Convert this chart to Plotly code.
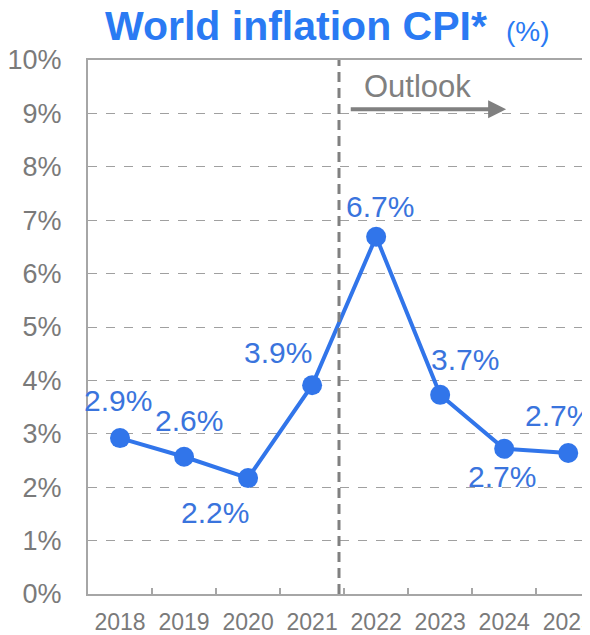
import plotly.graph_objects as go

years = ["2018", "2019", "2020", "2021", "2022", "2023", "2024", "2025"]
cpi = [2.92, 2.57, 2.17, 3.91, 6.69, 3.73, 2.72, 2.64]
cpi_labels = ["2.9%", "2.6%", "2.2%", "3.9%", "6.7%", "3.7%", "2.7%", "2.7%"]
y_ticks = list(range(0, 11))
y_tick_text = [f"{v}%" for v in y_ticks]

# label offsets (pixels) relative to each marker
label_dx = [-2, 5, -33, -34, 4, 25, -2, -9]
label_dy = [38, 36, -34, 33, 30, 35, -28, 38]

BLUE_LINE = "#3175EA"
BLUE_LABEL = "#3A74DD"
BLUE_TITLE = "#2A7AF3"
GRAY_TEXT = "#7A7A7A"
GRAY_AXIS = "#A6A6A6"
GRAY_DARK = "#808080"
FONT = "Liberation Sans, Arial, sans-serif"

fig = go.Figure()
fig.add_trace(go.Scatter(
    x=years, y=cpi, mode="lines+markers",
    line=dict(color=BLUE_LINE, width=4),
    marker=dict(color=BLUE_LINE, size=20),
    showlegend=False, cliponaxis=False,
))

annotations = []
for i, (v, t, dx, dy) in enumerate(zip(cpi, cpi_labels, label_dx, label_dy)):
    annotations.append(dict(
        x=i, y=v, xref="x", yref="y", text=t, showarrow=False,
        xanchor="center", yanchor="middle",
        xshift=dx, yshift=dy, font=dict(family=FONT, size=30, color=BLUE_LABEL),
    ))

# Outlook arrow and label
annotations.append(dict(
    x=6.03, y=9.08, ax=3.58, ay=9.08, xref="x", yref="y", axref="x", ayref="y",
    text="", showarrow=True, arrowhead=2, arrowsize=0.9, arrowwidth=4,
    arrowcolor=GRAY_DARK,
))
annotations.append(dict(
    x=4.64, y=9.5, xref="x", yref="y", text="Outlook", showarrow=False,
    font=dict(family=FONT, size=31, color=GRAY_DARK),
))

# Title
annotations.append(dict(
    x=0.414, y=1.063, xref="paper", yref="paper", xanchor="center", yanchor="middle",
    text="<b>World inflation CPI*</b>", showarrow=False,
    font=dict(family=FONT, size=41, color=BLUE_TITLE),
))
annotations.append(dict(
    x=0.877, y=1.054, xref="paper", yref="paper", xanchor="center", yanchor="middle",
    text="(%)", showarrow=False,
    font=dict(family=FONT, size=28, color=BLUE_TITLE),
))

# page body has an 8px margin, so the figure is 8px smaller than the window
fig.update_layout(
    width=582, height=627,
    margin=dict(l=80, r=0, t=52, b=41),
    paper_bgcolor="white", plot_bgcolor="white",
    font=dict(family=FONT, color=GRAY_TEXT),
    annotations=annotations,
    shapes=[dict(
        type="line", xref="x", yref="y", x0=3.42, x1=3.42, y0=0, y1=10,
        line=dict(color=GRAY_DARK, width=3, dash="10px,6px"), layer="above",
    )],
)

fig.update_xaxes(
    type="category", range=[-0.5, 7.34], automargin=False,
    showline=True, linecolor=GRAY_AXIS, linewidth=2, mirror=True,
    ticks="inside", tickson="boundaries", ticklen=6, tickcolor=GRAY_AXIS, tickwidth=1.5,
    showgrid=False, tickfont=dict(family=FONT, size=23, color=GRAY_TEXT),
    ticklabelstandoff=6, ticklabeloverflow="allow",
)
fig.update_yaxes(
    range=[0, 10], tickvals=y_ticks, ticktext=y_tick_text, automargin=False,
    showline=True, linecolor=GRAY_AXIS, linewidth=2,
    showgrid=True, gridcolor="#A0A0A0", gridwidth=1, griddash="dash",
    zeroline=False, ticks="", tickfont=dict(family=FONT, size=27, color=GRAY_TEXT),
    ticklabelstandoff=19,
)

fig.write_html("out.html")
